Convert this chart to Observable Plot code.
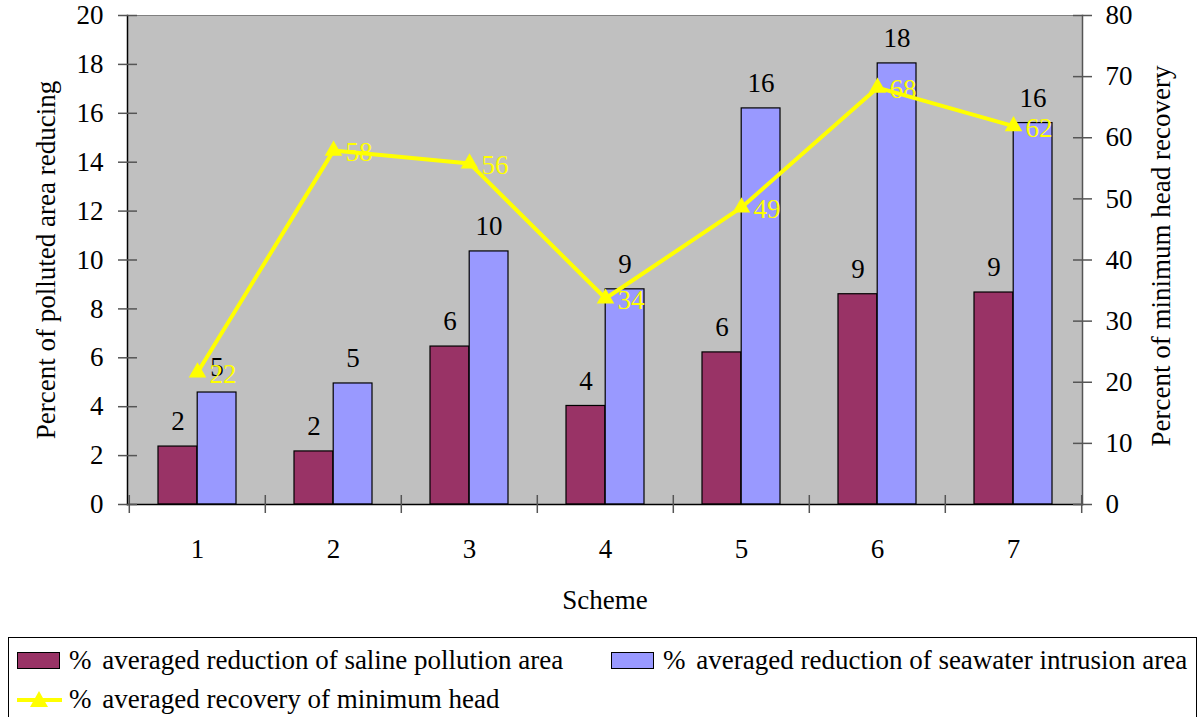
<!DOCTYPE html>
<html>
<head>
<meta charset="utf-8">
<script src="https://cdn.jsdelivr.net/npm/d3@7"></script>
<script src="https://cdn.jsdelivr.net/npm/@observablehq/plot@0.6"></script>
<style>
  body { margin: 0; background: #fff; font-family: "Liberation Serif", "Times New Roman", "DejaVu Serif", serif; }
  #wrap { position: relative; width: 1200px; height: 717px; overflow: hidden; }
  #chart svg, #chart svg text { font-family: "Liberation Serif", "Times New Roman", "DejaVu Serif", serif !important; }
  #legend { position: absolute; left: 8px; top: 637px; width: 1189px; height: 100px; border: 1px solid #000; box-sizing: border-box; font-size: 27px; color: #000; }
  .item { position: absolute; display: flex; align-items: center; white-space: pre; }
  .sw { width: 43px; height: 17px; border: 1px solid #000; box-sizing: border-box; margin-right: 9px; }
  .pct { margin-right: 4px; }
</style>
</head>
<body>
<div id="wrap">
  <div id="chart"></div>
  <div id="legend"></div>
</div>
<script>
const schemes = ["1", "2", "3", "4", "5", "6", "7"];
const saline = [2.37, 2.17, 6.46, 4.03, 6.22, 8.6, 8.67];
const seawater = [4.58, 4.95, 10.35, 8.8, 16.2, 18.04, 15.6];
const head = [21.6, 57.9, 55.8, 33.7, 48.6, 68.2, 61.9];
const leftTicks = [0, 2, 4, 6, 8, 10, 12, 14, 16, 18, 20];
const rightTicks = [0, 10, 20, 30, 40, 50, 60, 70, 80];
const seriesNames = [
  "averaged reduction of saline pollution area",
  "averaged reduction of seawater intrusion area",
  "averaged recovery of minimum head"
];
const colors = ["#993366", "#9999FF", "#FFFF00"];

const rows = schemes.map((s, i) => ({scheme: s, saline: saline[i], seawater: seawater[i], head: head[i]}));
const R = 4; // right axis / left axis ratio (80/20)

const half = 68.2, bw = 39.2;
const FONT = "Liberation Serif, Times New Roman, DejaVu Serif, serif";

const chart = Plot.plot({
  width: 1200,
  height: 620,
  marginLeft: 127,
  marginRight: 118,
  marginTop: 15,
  marginBottom: 116,
  style: {fontFamily: FONT, fontSize: "27px", color: "#000", background: "transparent"},
  x: {type: "band", domain: schemes, padding: 0, axis: null},
  y: {domain: [0, 20], axis: null},
  marks: [
    Plot.frame({fill: "#C0C0C0", stroke: "#808080"}),
    Plot.barY(rows, {x: "scheme", y: "saline", fill: colors[0], stroke: "#000", strokeWidth: 1.2, insetLeft: half - bw, insetRight: half}),
    Plot.barY(rows, {x: "scheme", y: "seawater", fill: colors[1], stroke: "#000", strokeWidth: 1.2, insetLeft: half, insetRight: half - bw}),
    Plot.frame({anchor: "left", stroke: "#000", strokeWidth: 1.5}),
    Plot.frame({anchor: "bottom", stroke: "#000", strokeWidth: 1.5}),
    Plot.frame({anchor: "right", stroke: "#555", strokeWidth: 1.5}),
    // x boundary ticks
    Plot.ruleX(schemes, {x: d => d, dx: -half, y1: 0, y2: 0, insetTop: -9, insetBottom: -9, stroke: "#555", strokeWidth: 1.5}),
    Plot.ruleX(schemes.slice(-1), {x: d => d, dx: half, y1: 0, y2: 0, insetTop: -9, insetBottom: -9, stroke: "#555", strokeWidth: 1.5}),
    // left axis ticks (crossing)
    Plot.axisY({ticks: leftTicks, tickSize: 19, dx: 10, text: null, stroke: "#555", strokeWidth: 1.5}),
    Plot.axisY({ticks: leftTicks, tickSize: 0, tickPadding: 24, label: null, tickFormat: d => d, fill: "#000", fontFamily: FONT}),
    // right axis
    Plot.axisY({anchor: "right", ticks: rightTicks.map(v => v / R), tickSize: 19, dx: -10, text: null, stroke: "#555", strokeWidth: 1.5}),
    Plot.axisY({anchor: "right", ticks: rightTicks.map(v => v / R), tickSize: 0, tickPadding: 23, label: null, tickFormat: d => d * R, fill: "#000", fontFamily: FONT}),
    // x labels
    Plot.axisX({tickSize: 0, tickPadding: 34, label: null, fill: "#000", fontFamily: FONT}),
    // bar labels
    Plot.text(rows, {x: "scheme", y: "saline", dx: -bw / 2, text: d => Math.round(d.saline), dy: -25, fill: "#000", fontFamily: FONT}),
    Plot.text(rows, {x: "scheme", y: "seawater", dx: bw / 2, text: d => Math.round(d.seawater), dy: -25, fill: "#000", fontFamily: FONT}),
    // line
    Plot.line(rows, {x: "scheme", y: d => d.head / R, stroke: colors[2], strokeWidth: 4}),
    Plot.dot(rows, {x: "scheme", y: d => d.head / R, symbol: "triangle", r: 6.5, fill: colors[2], stroke: "none"}),
    Plot.text(rows, {x: "scheme", y: d => d.head / R, text: d => Math.round(d.head), dx: 12, dy: 2, textAnchor: "start", fill: colors[2], fontFamily: FONT}),
    // axis titles
    Plot.text(["Percent of polluted area reducing"], {frameAnchor: "left", textAnchor: "middle", rotate: -90, dx: -81, text: d => d, fill: "#000", fontFamily: FONT}),
    Plot.text(["Percent of minimum head recovery"], {frameAnchor: "right", textAnchor: "middle", rotate: -90, dx: 79, dy: -4, text: d => d, fill: "#000", fontFamily: FONT}),
    Plot.text(["Scheme"], {frameAnchor: "bottom", dy: 104, text: d => d, fill: "#000", fontFamily: FONT})
  ]
});
document.getElementById("chart").appendChild(chart);

// legend
const legend = document.getElementById("legend");
const pos = [[8, 22], [602, 22], [8, 61]];
seriesNames.forEach((name, i) => {
  const it = document.createElement("div");
  it.className = "item";
  it.style.left = pos[i][0] + "px";
  it.style.top = (pos[i][1] - 16) + "px";
  it.style.height = "32px";
  let sw;
  if (i < 2) {
    sw = `<div class="sw" style="background:${colors[i]}"></div>`;
  } else {
    sw = `<svg width="45" height="20" style="margin-right:7px"><line x1="0" y1="11" x2="45" y2="11" stroke="${colors[2]}" stroke-width="4"/><path d="M22,2 L31,18 L13,18 Z" fill="${colors[2]}"/></svg>`;
  }
  it.innerHTML = sw + `<span class="pct">%</span><span> ${name}</span>`;
  legend.appendChild(it);
});
</script>
</body>
</html>
